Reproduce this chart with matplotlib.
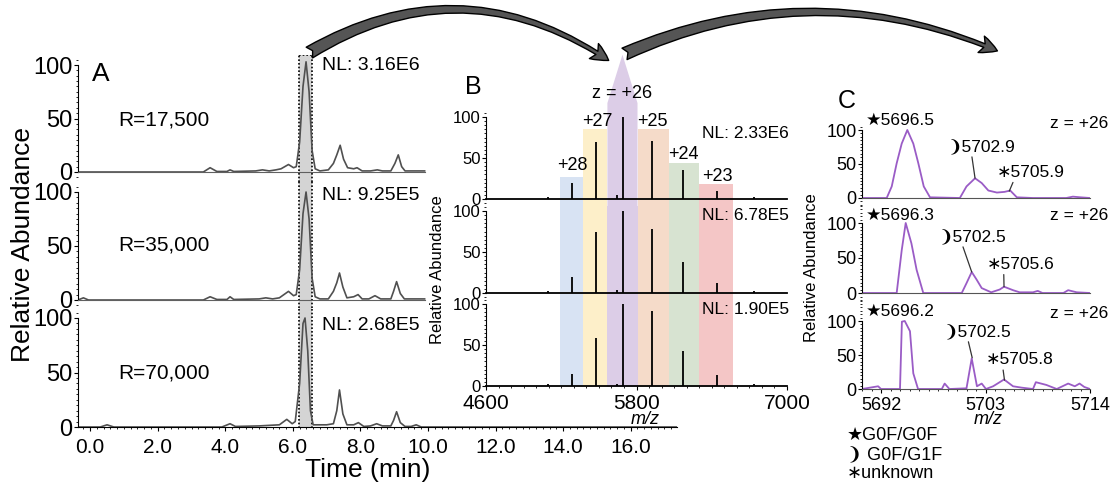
import matplotlib
matplotlib.use("Agg")
import matplotlib.pyplot as plt
from matplotlib.patches import FancyArrowPatch, Polygon
from matplotlib.ticker import MultipleLocator

plt.rcParams['font.family'] = ['Liberation Sans', 'DejaVu Sans']

W, H = 1116, 482

# ---- A: total ion chromatograms at three resolutions ----
a_res = ["R=17,500", "R=35,000", "R=70,000"]
a_nl = ["NL: 3.16E6", "NL: 9.25E5", "NL: 2.68E5"]
a_time_1 = [-0.36, 0.5, 3.35, 3.55, 3.75, 4.05, 4.14, 4.25, 4.9, 5.1, 5.3, 5.5, 5.65, 5.87, 6.02, 6.1,
            6.2, 6.3, 6.39, 6.48, 6.57, 6.66, 6.8, 7.05, 7.2, 7.3, 7.4, 7.5, 7.62, 7.8, 7.9, 8.05,
            8.3, 8.5, 8.65, 8.9, 9.02, 9.12, 9.22, 9.32, 9.9]
a_int_1 = [0, 0, 0, 4, 0.5, 0.5, 2, 0.5, 1, 2, 1, 2, 3, 7, 4, 5,
           28, 80, 103, 75, 20, 3, 1, 2, 8, 16, 25, 12, 4, 3, 4, 1,
           1, 2, 1, 1, 8, 16, 5, 1, 1]
a_time_2 = [-0.36, -0.2, -0.05, 3.35, 3.55, 3.75, 4.05, 4.14, 4.25, 5.0, 5.2, 5.4, 5.6, 5.87, 6.02, 6.1,
            6.2, 6.3, 6.39, 6.48, 6.57, 6.66, 6.8, 7.05, 7.2, 7.3, 7.38, 7.48, 7.6, 7.8, 7.93, 8.05,
            8.25, 8.43, 8.6, 8.9, 8.98, 9.07, 9.18, 9.3, 9.9]
a_int_2 = [0, 2, 0, 0, 3, 0.5, 0.5, 3, 0.5, 1, 2, 1, 2, 8, 4, 5,
           28, 80, 100, 75, 20, 3, 1, 1, 8, 16, 25, 12, 2, 3, 5, 1,
           1, 4, 1, 1, 8, 17, 6, 1, 1]
a_time_3 = [-0.36, 0.3, 0.5, 0.7, 3.9, 4.14, 4.3, 5.0, 5.3, 5.6, 5.82, 5.98, 6.07, 6.2, 6.3, 6.36,
            6.44, 6.52, 6.6, 6.75, 7.0, 7.2, 7.3, 7.38, 7.48, 7.6, 7.8, 7.94, 8.1, 8.3, 8.48, 8.65,
            8.9, 8.98, 9.07, 9.18, 9.32, 9.5, 9.65, 9.8, 17.37]
a_int_3 = [0, 0, 2, 0, 0, 3, 0.5, 1, 1.5, 2, 7, 3, 5, 40, 95, 100,
           70, 15, 2, 2, 2, 3, 15, 34, 12, 2, 2, 4, 0.5, 1, 3, 1,
           1, 6, 14, 4, 0.5, 0.5, 2, 0, 0]
a_window = [6.18, 6.57]
a_xticks = [0, 2, 4, 6, 8, 10, 12, 14, 16]

# ---- B: charge state envelopes ----
b_nl = ["NL: 2.33E6", "NL: 6.78E5", "NL: 1.90E5"]
b_mz = [5096, 5285, 5480, 5645, 5693, 5925, 6173, 6445, 6736]
b_int_1 = [3, 20, 70, 5, 100, 71, 35, 10, 3]
b_int_2 = [3, 20, 74, 4, 100, 78, 38, 12, 3]
b_int_3 = [2, 15, 58, 3, 100, 92, 43, 13, 3]
b_band_edges = [5192, 5376, 5568, 5808, 6056, 6296, 6568]
b_band_tops = [27, 85, 117, 85, 44, 18]
b_band_apex = 176
b_band_colors = ["#d8e3f3", "#fdefc9", "#dccde7", "#f5dbc9", "#d7e3d1", "#f4c6c6"]
b_charges = ["+28", "+27", "z = +26", "+25", "+24", "+23"]
b_charge_x = [5288, 5488, 5688, 5928, 6176, 6448]
b_charge_y = [41, 94, 129, 94, 54, 27]

# ---- C: deconvoluted z = +26 glycoforms ----
c_mz_1 = [5690, 5692.6, 5693.13, 5693.65, 5694.18, 5694.77, 5695.4, 5695.93, 5696.5, 5697.16,
          5700.3, 5701.0, 5701.9, 5702.6, 5703.3, 5704.2, 5705.0, 5705.6, 5706.3, 5708,
          5711.5, 5712.2, 5713, 5714]
c_int_1 = [0, 0, 17, 51, 80, 100, 80, 51, 17, 1,
           0, 17, 29, 22, 11, 8, 9, 11, 1, 0,
           0, 2, 1, 0]
c_mz_2 = [5690, 5693.65, 5694.18, 5694.6, 5695.2, 5695.75, 5696.45, 5700.5, 5701.0, 5701.55,
          5702.07, 5702.6, 5703.6, 5704.5, 5704.95, 5705.9, 5706.6, 5708, 5708.5, 5709,
          5711.2, 5711.7, 5712.6, 5714]
c_int_2 = [0, 0, 61, 100, 71, 33, 0, 0, 14, 30,
           19, 7, 1, 5, 9, 4, 1, 1, 3, 0,
           0, 4, 1, 0]
c_mz_3 = [5690, 5691.7, 5692.0, 5694.0, 5694.2, 5694.5, 5695.05, 5695.4, 5695.9, 5698.4, 5698.7,
          5699.2, 5701.0, 5701.55, 5702.1, 5702.6, 5703.05, 5703.8, 5704.95, 5705.9, 5706.8,
          5708, 5708.3, 5709.4, 5710.5, 5711.7, 5712.4, 5712.9, 5713.4, 5714]
c_int_3 = [0, 4, 0, 0, 99, 100, 85, 23, 0, 0, 8,
           0, 1, 45, 4, 8, 0, 4, 14, 4, 2,
           0, 10, 6, 0, 8, 4, 8, 3, 0]
c_star = ["\u26055696.5", "\u26055696.3", "\u26055696.2"]
c_moon = ["\u27695702.9", "\u27695702.5", "\u27695702.5"]
c_unk = ["\u22175705.9", "\u22175705.6", "\u22175705.8"]
c_moon_xy = [(5701.9, 29), (5701.55, 30), (5701.6, 46)]
c_moon_txt = [(5702.6, 76), (5701.6, 81), (5702.2, 85)]
c_unk_xy = [(5705.5, 10), (5704.95, 9), (5705.0, 13)]
c_unk_txt = [(5707.8, 38), (5706.7, 41), (5706.6, 43)]
c_legend = ["\u2605G0F/G0F", "\u2769 G0F/G1F", "\u2217unknown"]

fig = plt.figure(figsize=(W / 100, H / 100), dpi=100)


def add_axes_px(left, right, top, bottom, y0, y100):
    # place an axes by pixel box; ylim chosen so 0 and 100 land on y0 / y100
    ax = fig.add_axes([left / W, 1 - bottom / H, (right - left) / W, (bottom - top) / H])
    k = (y0 - y100) / 100.0
    ax.set_ylim((y0 - bottom) / k, (y0 - top) / k)
    ax.set_facecolor('none')
    for s in ('top', 'right'):
        ax.spines[s].set_visible(False)
    ax.spines['bottom'].set_position(('data', 0))
    ax.spines['left'].set_bounds(0, 100)
    ax.set_yticks([0, 50, 100])
    ax.yaxis.set_minor_locator(MultipleLocator(5))
    ax.tick_params(axis='y', which='major', length=3, pad=1)
    ax.tick_params(axis='y', which='minor', length=1.5)
    return ax


def fx(x):
    return x / W


def fy(y):
    return 1 - y / H


# ---------- panel A ----------
a_boxes = [(55, 182, 172, 65), (182, 308, 300, 192), (308, 428, 427, 318)]
a_series = [(a_time_1, a_int_1), (a_time_2, a_int_2), (a_time_3, a_int_3)]
a_label_y = [120, 245, 373]
a_nl_y = [66, 196, 325]
for i, (box, (t, v)) in enumerate(zip(a_boxes, a_series)):
    ax = add_axes_px(78, 677, *box)
    ax.set_xlim(-0.36, 17.37)
    ax.axvspan(a_window[0], a_window[1], color="#d4d4d4", lw=0, zorder=0)
    for xw in a_window:
        ax.axvline(xw, color="black", ls=(0, (1, 1.2)), lw=1.2, zorder=1)
    ax.plot(t, v, color="#505050", lw=1.2, zorder=2)
    ax.tick_params(axis='y', labelsize=17)
    if i < 2:
        ax.spines['bottom'].set_bounds(-0.36, 9.9)
        ax.spines['bottom'].set_color("#606060")
        ax.set_xticks([])
    else:
        ax.set_xticks(a_xticks)
        ax.set_xticklabels([f"{x:.1f}" for x in a_xticks])
        ax.xaxis.set_minor_locator(MultipleLocator(0.2))
        ax.tick_params(axis='x', which='major', labelsize=15, length=3, pad=5)
        ax.tick_params(axis='x', which='minor', length=1.5)
    if i == 0:
        ax.plot(a_window, [ax.get_ylim()[1]] * 2, color="black", ls=(0, (1, 1.2)), lw=1.2)
    fig.text(fx(118), fy(a_label_y[i]), a_res[i], fontsize=15, va='center')
    fig.text(fx(322), fy(a_nl_y[i]), a_nl[i], fontsize=14, va='center')

fig.text(fx(92), fy(74), "A", fontsize=19, va='center')
fig.text(fx(23), fy(245), "Relative Abundance", fontsize=19, rotation=90, ha='center', va='center')
fig.text(fx(368), fy(470), "Time (min)", fontsize=19, ha='center', va='center')

# ---------- panel B ----------
b_boxes = [(110, 206, 199, 117), (206, 299, 293, 211), (299, 387, 386, 304)]
b_series = [b_int_1, b_int_2, b_int_3]
b_nl_y = [134, 215, 310]
for i, (box, vals) in enumerate(zip(b_boxes, b_series)):
    ax = add_axes_px(486, 787, *box)
    ax.set_xlim(4600, 7000)
    ybot = ax.get_ylim()[0]
    for j, col in enumerate(b_band_colors):
        x0, x1 = b_band_edges[j], b_band_edges[j + 1]
        if i == 0:
            if j == 2:
                pts = [(x0, ybot), (x0, b_band_tops[j]), ((x0 + x1) / 2, b_band_apex),
                       (x1, b_band_tops[j]), (x1, ybot)]
                ax.add_patch(Polygon(pts, closed=True, fc=col, ec='none', clip_on=False, zorder=0))
            else:
                ax.bar(x0, b_band_tops[j] - ybot, bottom=ybot, width=x1 - x0, align='edge',
                       color=col, lw=0, zorder=0)
        else:
            ax.axvspan(x0, x1, color=col, lw=0, zorder=0)
    ax.vlines(b_mz, 0, vals, color="black", lw=1.3, zorder=2)
    ax.spines['bottom'].set_linewidth(1.3)
    ax.tick_params(axis='y', labelsize=12)
    if i < 2:
        ax.set_xticks([])
    else:
        ax.set_xticks([4600, 5800, 7000])
        ax.xaxis.set_minor_locator(MultipleLocator(100))
        ax.tick_params(axis='x', which='major', labelsize=15, length=3, pad=3)
        ax.tick_params(axis='x', which='minor', length=1.5)
    if i == 0:
        for lab, xl, yl in zip(b_charges, b_charge_x, b_charge_y):
            ax.text(xl, yl, lab, fontsize=13, ha='center', va='center', zorder=3)
    fig.text(fx(702), fy(b_nl_y[i]), b_nl[i], fontsize=12.5, va='center')

fig.text(fx(465), fy(87), "B", fontsize=18, va='center')
fig.text(fx(438), fy(270), "Relative Abundance", fontsize=12, rotation=90, ha='center', va='center')
fig.text(fx(645), fy(419), "m/z", fontsize=13, style='italic', ha='center', va='center')

# ---------- panel C ----------
c_boxes = [(125, 205, 198, 130), (205, 300, 293, 223), (300, 390, 389, 321)]
c_series = [(c_mz_1, c_int_1), (c_mz_2, c_int_2), (c_mz_3, c_int_3)]
c_star_y = [120, 215, 311]
c_z_y = [123, 216, 313]
for i, (box, (m, v)) in enumerate(zip(c_boxes, c_series)):
    ax = add_axes_px(862, 1090, *box)
    ax.set_xlim(5690, 5714)
    ax.plot(m, v, color="#9a5cc6", lw=1.3, zorder=2)
    ax.spines['bottom'].set_color("#555555")
    ax.tick_params(axis='y', labelsize=13)
    if i < 2:
        ax.set_xticks([])
    else:
        ax.set_xticks([5692, 5703, 5714])
        ax.xaxis.set_minor_locator(MultipleLocator(1))
        ax.tick_params(axis='x', which='major', labelsize=13, length=3, pad=3)
        ax.tick_params(axis='x', which='minor', length=1.5)
    lp = dict(arrowstyle='-', color="#333333", lw=0.9, shrinkA=0, shrinkB=0)
    ax.annotate(c_moon[i], xy=c_moon_xy[i], xytext=c_moon_txt[i], fontsize=12.5,
                ha='center', va='center', arrowprops=dict(relpos=(0.35, 0), **lp))
    ax.annotate(c_unk[i], xy=c_unk_xy[i], xytext=c_unk_txt[i], fontsize=12.5,
                ha='center', va='center', arrowprops=dict(relpos=(0.25, 0), **lp))
    fig.text(fx(900), fy(c_star_y[i]), c_star[i], fontsize=12.5, ha='center', va='center')
    fig.text(fx(1108), fy(c_z_y[i]), "z = +26", fontsize=12.5, ha='right', va='center')

fig.text(fx(838), fy(101), "C", fontsize=18, va='center')
fig.text(fx(812), fy(268), "Relative Abundance", fontsize=12, rotation=90, ha='center', va='center')
fig.text(fx(988), fy(420), "m/z", fontsize=13, style='italic', ha='center', va='center')
for lab, yy in zip(c_legend, [435, 456, 474]):
    fig.text(fx(847), fy(yy), lab, fontsize=13, va='center')

# ---------- linking arrows ----------
arrow_style = "fancy,head_length=0.7,head_width=0.7,tail_width=0.5"
for (x0, y0), (x1, y1), rad in [((307, 54), (611, 62), -0.32), ((622, 55), (1000, 52), -0.22)]:
    fig.patches.append(FancyArrowPatch((fx(x0), fy(y0)), (fx(x1), fy(y1)),
                                       transform=fig.transFigure, arrowstyle=arrow_style,
                                       connectionstyle=f"arc3,rad={rad}", mutation_scale=18,
                                       fc="#555555", ec="black", lw=1, zorder=10))

fig.savefig("out.png", dpi=100)
